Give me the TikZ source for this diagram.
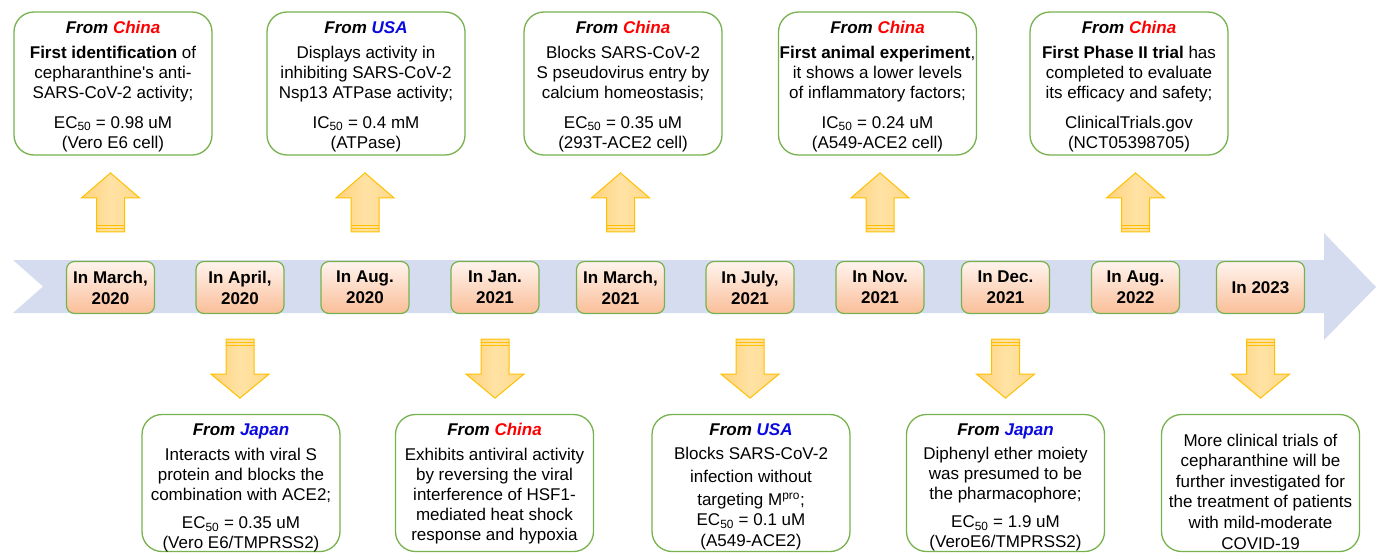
\documentclass[tikz,border=0pt]{standalone}
\usepackage{fontspec}
\setmainfont{Liberation Sans}
\usetikzlibrary{calc}
\definecolor{bandc}{HTML}{D6DCEF}
\definecolor{boxg}{HTML}{77B24E}
\definecolor{arrb}{HTML}{FFC000}
\definecolor{arrL}{HTML}{FFD27C}
\definecolor{arrM}{HTML}{FFE2A4}
\definecolor{arrR}{HTML}{FFD98C}
\definecolor{dtop}{HTML}{FFF4EE}
\definecolor{dbot}{HTML}{FABE98}
\definecolor{cnred}{HTML}{FF0000}
\definecolor{usblue}{HTML}{0A0AE0}
\newcommand{\fromred}[1]{\textbf{\textit{From \textcolor{cnred}{#1}}}}
\newcommand{\fromblue}[1]{\textbf{\textit{From \textcolor{usblue}{#1}}}}
\begin{document}
\begin{tikzpicture}[x=1pt,y=-1pt,
  infobox/.style={draw=boxg, line width=1.3pt, rounded corners=20pt, minimum width=198pt, minimum height=143pt, fill=white, inner sep=0pt},
  lowbox/.style={infobox, minimum height=137pt},
  infotext/.style={align=center, inner sep=0pt, font=\fontsize{17}{20}\selectfont},
  datebox/.style={draw=boxg, line width=1.2pt, rounded corners=8pt, minimum width=88pt, minimum height=52pt, top color=dtop, bottom color=dbot, align=center, inner sep=0pt, font=\fontsize{17}{21}\selectfont\bfseries},
  blockarrow/.style={draw=arrb, line width=1pt, left color=arrL, right color=arrR, middle color=arrM},
  upblock/.pic={
    \path[blockarrow] (-14,0) -- (-14,-34) -- (-29,-34) -- (0,-59) -- (29,-34) -- (14,-34) -- (14,0) -- cycle;
    \draw[arrb, line width=0.8pt] (-14,-3.5) -- (14,-3.5) (-14,-6.5) -- (14,-6.5);},
  downblock/.pic={
    \path[blockarrow] (-14,0) -- (-14,35) -- (-29,35) -- (0,59) -- (29,35) -- (14,35) -- (14,0) -- cycle;
    \draw[arrb, line width=0.8pt] (-14,3.5) -- (14,3.5) (-14,6.5) -- (14,6.5);}
]
\useasboundingbox (0,0) rectangle (1376,554);
% timeline band
\fill[bandc] (13,260) -- (1324,260) -- (1324,233) -- (1376,287) -- (1324,340) -- (1324,313) -- (13,313) -- (43,286.5) -- cycle;
% date boxes
\node[datebox] (d1) at (110.5,287.5) {In March,\\2020};
\node[datebox] (d2) at (240,287.5) {In April,\\2020};
\node[datebox] (d3) at (365,287.5) {In Aug.\\2020};
\node[datebox] (d4) at (495,287.5) {In Jan.\\2021};
\node[datebox] (d5) at (620.5,287.5) {In March,\\2021};
\node[datebox] (d6) at (750,287.5) {In July,\\2021};
\node[datebox] (d7) at (880,287.5) {In Nov.\\2021};
\node[datebox] (d8) at (1005.5,287.5) {In Dec.\\2021};
\node[datebox] (d9) at (1135.5,287.5) {In Aug.\\2022};
\node[datebox] (d10) at (1260.5,287.5) {In 2023};
% top boxes
\node[infobox] (t1) at (113,83.5) {};
\node[infobox] (t2) at (366,83.5) {};
\node[infobox] (t3) at (623,83.5) {};
\node[infobox] (t4) at (877.5,83.5) {};
\node[infobox] (t5) at (1129,83.5) {};
\node[infotext] (t1x) at (113,86.5) {\fromred{China}\\[5pt]\textbf{First identification} of\\cepharanthine\textquotesingle s anti-\\SARS-CoV-2 activity;\\[10pt]EC\textsubscript{50} = 0.98 uM\\(Vero E6 cell)};
\node[infotext] (t2x) at (366,86.5) {\fromblue{USA}\\[5pt]Displays activity in\\inhibiting SARS-CoV-2\\Nsp13 ATPase activity;\\[10pt]IC\textsubscript{50} = 0.4 mM\\(ATPase)};
\node[infotext] (t3x) at (623,86.5) {\fromred{China}\\[5pt]Blocks SARS-CoV-2\\S pseudovirus entry by\\calcium homeostasis;\\[10pt]EC\textsubscript{50} = 0.35 uM\\(293T-ACE2 cell)};
\node[infotext] (t4x) at (877.5,86.5) {\fromred{China}\\[5pt]\textbf{First animal experiment},\\it shows a lower levels\\of inflammatory factors;\\[10pt]IC\textsubscript{50} = 0.24 uM\\(A549-ACE2 cell)};
\node[infotext] (t5x) at (1129,86.5) {\fromred{China}\\[5pt]\textbf{First Phase II trial} has\\completed to evaluate\\its efficacy and safety;\\[10pt]ClinicalTrials.gov\\(NCT05398705)};
% bottom boxes
\node[lowbox] (b1) at (241,483) {};
\node[lowbox] (b2) at (494.5,483) {};
\node[lowbox] (b3) at (751,483) {};
\node[lowbox] (b4) at (1005.5,483) {};
\node[lowbox] (b5) at (1260.5,483) {};
\node[infotext] (b1x) at (241,488) {\fromblue{Japan}\\[5pt]Interacts with viral S\\protein and blocks the\\combination with ACE2;\\[8pt]EC\textsubscript{50} = 0.35 uM\\(Vero E6/TMPRSS2)};
\node[infotext] (b2x) at (494.5,484) {\fromred{China}\\[5pt]Exhibits antiviral activity\\by reversing the viral\\interference of HSF1-\\mediated heat shock\\response and hypoxia};
\node[infotext] (b3x) at (751,487) {\fromblue{USA}\\[4pt]Blocks SARS-CoV-2\\[3pt]infection without\\[3pt]targeting M\textsuperscript{pro};\\EC\textsubscript{50} = 0.1 uM\\[1pt](A549-ACE2)};
\node[infotext] (b4x) at (1005.5,487.5) {\fromblue{Japan}\\[4pt]Diphenyl ether moiety\\was presumed to be\\the pharmacophore;\\[8pt]EC\textsubscript{50} = 1.9 uM\\(VeroE6/TMPRSS2)};
\node[infotext, font=\fontsize{17}{20.6}\selectfont] (b5x) at (1260.5,491.5) {More clinical trials of\\cepharanthine will be\\further investigated for\\the treatment of patients\\with mild-moderate\\COVID-19};
% block arrows
\foreach \d in {d1,d3,d5,d7,d9} \pic at ($(\d.north)+(0,-29)$) {upblock};
\foreach \d in {d2,d4,d6,d8,d10} \pic at ($(\d.south)+(0,25)$) {downblock};
\end{tikzpicture}
\end{document}
